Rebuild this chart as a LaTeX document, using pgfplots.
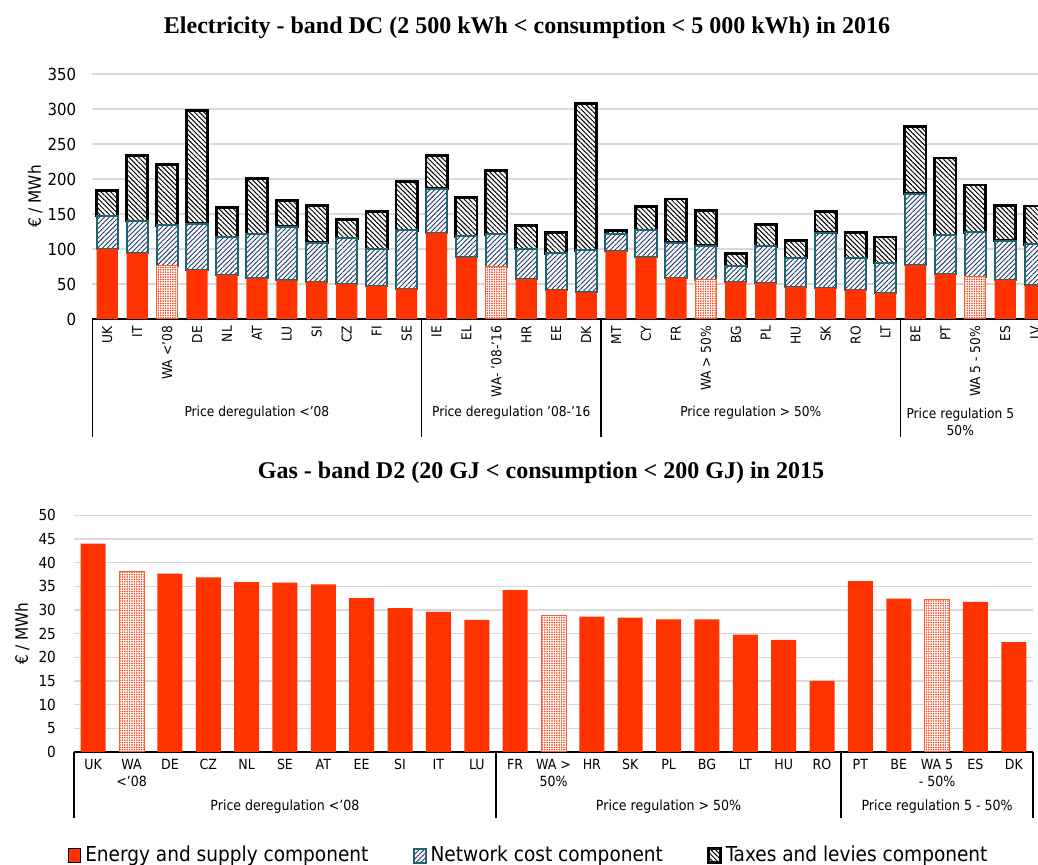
\documentclass[border=0pt]{standalone}
\usepackage{fontspec}
\setmainfont{DejaVu Sans Condensed}
\newfontfamily\titlefont{Liberation Serif}
\usepackage{pgfplots}
\pgfplotsset{compat=1.18}
\usepackage{pgfplotstable}
\usetikzlibrary{patterns,patterns.meta}

\definecolor{enRed}{HTML}{FF3300}
\definecolor{netTeal}{HTML}{1E6570}
\definecolor{netNavy}{HTML}{1F3A68}
\definecolor{gridGray}{HTML}{D9D9D9}

% electricity, band DC 2016: E = energy, W = energy of the WA bars, N = network, T = taxes
\pgfplotstableread{
x E W N T
0 100 0 47 36
1 94 0 46 93
2 0 76 58 87
3 70 0 66 162
4 63 0 54 42.5
5 58 0 63 79.5
6 55 0 77 37.5
7 53.5 0 55.5 53
8 50 0 65 27
9 47 0 53 54
10 43.5 0 83 69.5
11 123 0 63 47
12 88 0 30 55
13 0 74.5 46.5 91.5
14 57 0 43 33
15 42 0 52 29
16 38 0 60 210
17 97 0 24 5.5
18 88 0 38.5 34.5
19 59 0 50 62.5
20 0 56 48.5 50.5
21 53 0 22.5 18.1
22 51.5 0 52.5 31
23 46 0 41 25
24 44.4 0 78.6 30
25 42 0 45 36
26 37 0 43 37
27 77 0 102 95.6
28 64.5 0 55.5 110
29 0 60 63.7 67.8
30 56 0 56 50.4
31 48 0 58.5 54.9
}\elec

% gas, band D2 2015
\pgfplotstableread{
x E W
0 44.0 0
1 0 38.2
2 37.7 0
3 36.9 0
4 35.9 0
5 35.8 0
6 35.4 0
7 32.5 0
8 30.4 0
9 29.6 0
10 27.9 0
11 34.2 0
12 0 28.9
13 28.6 0
14 28.4 0
15 28.0 0
16 28.0 0
17 24.8 0
18 23.7 0
19 15.0 0
20 36.1 0
21 32.4 0
22 0 32.2
23 31.7 0
24 23.2 0
}\gas

\pgfplotsset{
  sqlegend/.style={legend image code/.code={\draw[##1] (0pt,-3.5pt) rectangle (6pt,3.5pt);}},
  energy/.style={fill=enRed, draw=none, sqlegend},
  energyWA/.style={preaction={fill=white}, pattern={Dots[distance=1.2pt,radius=0.42pt]}, pattern color=enRed, draw=enRed!80, line width=0.5pt},
  network/.style={preaction={fill=white}, pattern={Lines[angle=45,distance=1.7pt,line width=0.45pt]}, pattern color=netNavy, draw=netTeal, line width=1pt, sqlegend},
  taxes/.style={preaction={fill=white}, pattern={Lines[angle=-45,distance=1.7pt,line width=0.5pt]}, pattern color=black, draw=black, line width=1.4pt, sqlegend},
  chart/.style={
    scale only axis, ybar stacked, clip=false,
    axis x line*=bottom, axis y line*=left,
    y axis line style={draw=none},
    x axis line style={line width=0.75pt},
    major tick length=0pt,
    ymajorgrids, grid style={gridGray, line width=0.75pt},
    /pgf/number format/assume math mode=true,
    ylabel={€ / MWh},
  },
}
\newcommand{\fs}[1]{\fontsize{#1}{#1}\selectfont}

\begin{document}
\begin{tikzpicture}
\path[use as bounding box] (0,0) rectangle (519pt,432.5pt);

\node[font=\titlefont\bfseries\fontsize{12}{14}\selectfont] at (263.5pt,418.5pt)
  {Electricity - band DC (2 500 kWh < consumption < 5 000 kWh) in 2016};
\node[font=\titlefont\bfseries\fontsize{12}{14}\selectfont] at (270.5pt,196pt)
  {Gas - band D2 (20 GJ < consumption < 200 GJ) in 2015};

\begin{axis}[
  chart,
  at={(46.15pt,273pt)}, anchor=south west,
  width=478.9pt, height=122.5pt,
  bar width=10.6pt,
  xmin=-0.5, xmax=31.5, ymin=0, ymax=350,
  ytick={0,50,...,350},
  xtick={0,...,31},
  xticklabels={UK,IT,WA <'08,DE,NL,AT,LU,SI,CZ,FI,SE,IE,EL,WA- '08-'16,HR,EE,DK,MT,CY,FR,WA > 50\%,BG,PL,HU,SK,RO,LT,BE,PT,WA 5 - 50\%,ES,LV},
  xticklabel style={rotate=90, anchor=east, font=\fs{6.8}},
  yticklabel style={font=\fs{8.3}, xshift=-4.5pt},
  every axis y label/.style={at={(axis description cs:-0.0595,0.5)}, rotate=90, anchor=center, font=\fs{8.5}},
  legend style={at={(axis description cs:0.457,-2.19)}, anchor=center,
    legend columns=-1, draw=none, fill=none, font=\fs{10.3},
    /tikz/every even column/.append style={column sep=20pt}},
  legend cell align=left,
]
\addplot[energy] table[x=x, y=E] {\elec};
\addplot[energyWA] table[x=x, y=W] {\elec};
\addplot[network] table[x=x, y=N] {\elec};
\addplot[taxes] table[x=x, y=T] {\elec};
\legend{Energy and supply component,,Network cost component,Taxes and levies component}

\draw[line width=0.75pt] (axis cs:-0.5,0) -- ++(0pt,-59pt);
\draw[line width=0.75pt] (axis cs:10.5,0) -- ++(0pt,-59pt);
\draw[line width=0.75pt] (axis cs:16.5,0) -- ++(0pt,-59pt);
\draw[line width=0.75pt] (axis cs:26.5,0) -- ++(0pt,-59pt);
\node[font=\fs{6.8}] at ([yshift=-47pt]axis cs:5,0) {Price deregulation <'08};
\node[font=\fs{6.8}] at ([yshift=-47pt]axis cs:13.5,0) {Price deregulation '08-'16};
\node[font=\fs{6.8}] at ([yshift=-47pt]axis cs:21.5,0) {Price regulation > 50\%};
\node[font=\fontsize{6.8}{8.5}\selectfont, align=center] at ([yshift=-51.25pt]axis cs:28.5,0) {Price regulation 5\\50\%};
\end{axis}

\begin{axis}[
  chart,
  at={(37pt,56.5pt)}, anchor=south west,
  width=479.5pt, height=118.35pt,
  bar width=12.5pt,
  xmin=-0.5, xmax=24.5, ymin=0, ymax=50,
  ytick={0,5,...,50},
  xtick={0,...,24},
  xticklabels={UK,{WA\\<'08},DE,CZ,NL,SE,AT,EE,SI,IT,LU,FR,{WA >\\50\%},HR,SK,PL,BG,LT,HU,RO,PT,BE,{WA 5\\- 50\%},ES,DK},
  xticklabel style={align=center, anchor=north, font=\fontsize{7}{8.5}\selectfont},
  yticklabel style={font=\fs{7.6}, xshift=-5.5pt},
  every axis y label/.style={at={(axis description cs:-0.054,0.5)}, rotate=90, anchor=center, font=\fs{8.5}},
]
\addplot[energy] table[x=x, y=E] {\gas};
\addplot[energyWA] table[x=x, y=W] {\gas};

\draw[line width=0.75pt] (axis cs:-0.5,0) -- ++(0pt,-33pt);
\draw[line width=0.75pt] (axis cs:10.5,0) -- ++(0pt,-33pt);
\draw[line width=0.75pt] (axis cs:19.5,0) -- ++(0pt,-33pt);
\draw[line width=0.75pt] (axis cs:24.5,0) -- ++(0pt,-33pt);
\node[font=\fs{7}] at ([yshift=-27.5pt]axis cs:5,0) {Price deregulation <'08};
\node[font=\fs{7}] at ([yshift=-27.5pt]axis cs:15,0) {Price regulation > 50\%};
\node[font=\fs{7}] at ([yshift=-27.5pt]axis cs:22,0) {Price regulation 5 - 50\%};
\end{axis}
\end{tikzpicture}
\end{document}
